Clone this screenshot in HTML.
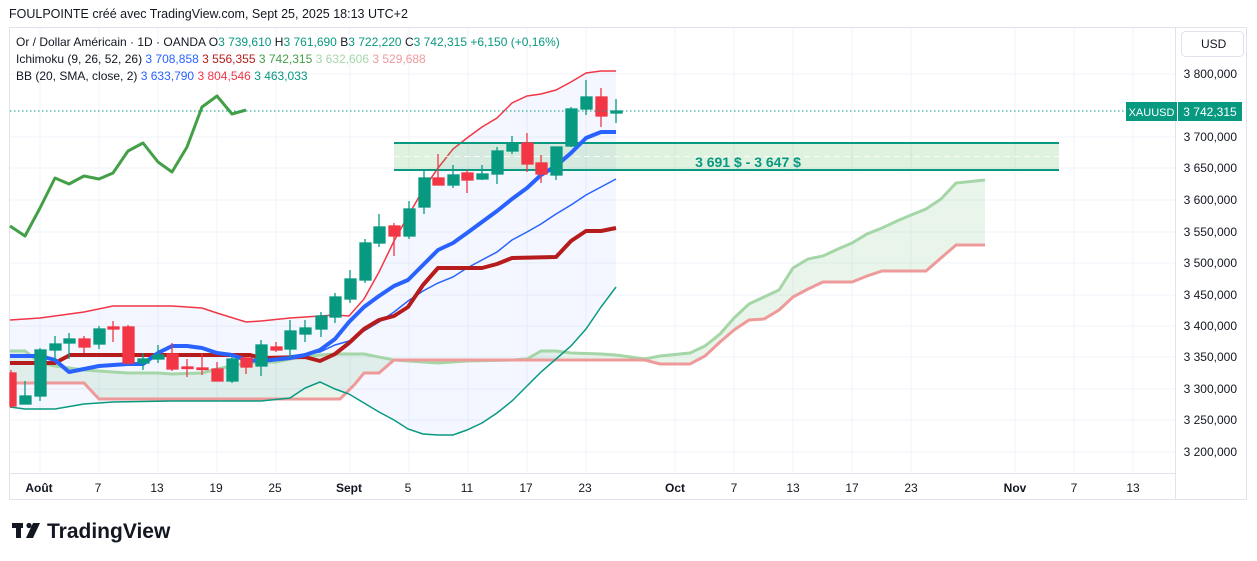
<!DOCTYPE html>
<html><head><meta charset="utf-8"><style>
html,body{margin:0;padding:0;background:#fff;width:1257px;height:561px;overflow:hidden}
svg{display:block;font-family:"Liberation Sans",sans-serif}
</style></head><body>
<svg width="1257" height="561" viewBox="0 0 1257 561" xmlns="http://www.w3.org/2000/svg">
<text x="9" y="18" font-size="12.5" fill="#131722">FOULPOINTE créé avec TradingView.com, Sept 25, 2025 18:13 UTC+2</text>
<rect x="9.5" y="27.5" width="1237" height="472" fill="none" stroke="#e0e3eb"/>
<g stroke="#f0f3fa" stroke-width="1">
<line x1="10" y1="74" x2="1175" y2="74"/><line x1="10" y1="137" x2="1175" y2="137"/><line x1="10" y1="168" x2="1175" y2="168"/><line x1="10" y1="200" x2="1175" y2="200"/><line x1="10" y1="232" x2="1175" y2="232"/><line x1="10" y1="263" x2="1175" y2="263"/><line x1="10" y1="295" x2="1175" y2="295"/><line x1="10" y1="326" x2="1175" y2="326"/><line x1="10" y1="357" x2="1175" y2="357"/><line x1="10" y1="389" x2="1175" y2="389"/><line x1="10" y1="420" x2="1175" y2="420"/><line x1="10" y1="452" x2="1175" y2="452"/>
<line x1="40" y1="28" x2="40" y2="473"/><line x1="99" y1="28" x2="99" y2="473"/><line x1="158" y1="28" x2="158" y2="473"/><line x1="217" y1="28" x2="217" y2="473"/><line x1="276" y1="28" x2="276" y2="473"/><line x1="350" y1="28" x2="350" y2="473"/><line x1="409" y1="28" x2="409" y2="473"/><line x1="468" y1="28" x2="468" y2="473"/><line x1="527" y1="28" x2="527" y2="473"/><line x1="586" y1="28" x2="586" y2="473"/><line x1="675" y1="28" x2="675" y2="473"/><line x1="734" y1="28" x2="734" y2="473"/><line x1="793" y1="28" x2="793" y2="473"/><line x1="852" y1="28" x2="852" y2="473"/><line x1="911" y1="28" x2="911" y2="473"/><line x1="1015" y1="28" x2="1015" y2="473"/><line x1="1074" y1="28" x2="1074" y2="473"/><line x1="1133" y1="28" x2="1133" y2="473"/>
</g>
<line x1="10" y1="473.5" x2="1175" y2="473.5" stroke="#e0e3eb"/>
<line x1="1175.5" y1="28" x2="1175.5" y2="500" stroke="#e0e3eb"/>
<polygon fill="#2962ff" fill-opacity="0.05" points="10,320 40,318 84,312 113,306 172,306 202,308 217,313 246,322 261,321 290,318 320,316 335,315 349,316 364,299 379,272 394,241 408,216 423,190 438,168 453,149 467,138 482,127 497,118 512,103 527,96 541,94 556,90 571,82 586,73 601,71 616,71 616,287 601,307 586,329 571,346 556,359 541,372 527,386 512,401 497,413 482,423 467,430 453,435 438,435 423,434 408,429 394,420 379,412 364,403 349,394 335,389 320,382 290,398 261,401 217,401 172,401 113,402 84,404 55,409 25,409 10,407"/>
<polygon fill="#4caf50" fill-opacity="0.12" points="10,351 25,351 40,363 55,366 84,370 128,373 158,373 172,374 202,373 217,369 246,363 276,362 305,356 335,354 364,354 394,360 438,363 467,361 512,360 527,359 541,351 556,351 571,353 601,354 616,355 645,359 660,356 690,353 705,346 720,334 734,318 749,304 764,297 779,290 793,268 808,259 823,256 838,249 852,243 867,234 882,228 897,221 911,215 926,209 941,199 956,183 985,180 985,245 956,245 941,258 926,271 882,271 867,276 852,282 823,282 808,289 793,297 779,310 764,319 749,320 734,330 720,342 705,356 690,364 660,364 645,360 394,360 379,373 364,373 355,384 340,399 99,399 84,383 10,383"/>
<polyline fill="none" stroke="#a5d6a7" stroke-width="3" points="10,351 25,351 40,363 55,366 84,370 128,373 158,373 172,374 202,373 217,369 246,363 276,362 305,356 335,354 364,354 394,360 438,363 467,361 512,360 527,359 541,351 556,351 571,353 601,354 616,355 645,359 660,356 690,353 705,346 720,334 734,318 749,304 764,297 779,290 793,268 808,259 823,256 838,249 852,243 867,234 882,228 897,221 911,215 926,209 941,199 956,183 985,180"/>
<polyline fill="none" stroke="#ef9a9a" stroke-width="3" points="10,383 25,383 84,383 99,399 340,399 355,384 364,373 379,373 394,360 645,360 660,364 690,364 705,356 720,342 734,330 749,320 764,319 779,310 793,297 808,289 823,282 852,282 867,276 882,271 926,271 941,258 956,245 985,245"/>
<polyline fill="none" stroke="#f23645" stroke-width="1.5" points="10,320 40,318 84,312 113,306 172,306 202,308 217,313 246,322 261,321 290,318 320,316 335,315 349,316 364,299 379,272 394,241 408,216 423,190 438,168 453,149 467,138 482,127 497,118 512,103 527,96 541,94 556,90 571,82 586,73 601,71 616,71"/>
<polyline fill="none" stroke="#089981" stroke-width="1.5" points="10,407 25,409 55,409 84,404 113,402 172,401 217,401 261,401 290,398 305,388 320,382 335,389 349,394 364,403 379,412 394,420 408,429 423,434 438,435 453,435 467,430 482,423 497,413 512,401 527,386 541,372 556,359 571,346 586,329 601,307 616,287"/>
<polyline fill="none" stroke="#2962ff" stroke-width="1.5" points="290,356 320,352 335,345 349,341 364,331 379,322 394,312 408,301 423,291 438,283 453,277 467,268 482,260 497,252 512,240 527,232 541,224 556,214 571,205 586,195 601,187 616,179"/>
<rect x="394" y="143" width="665" height="27" fill="#4caf50" fill-opacity="0.18"/>
<line x1="394" y1="143" x2="1059" y2="143" stroke="#089981" stroke-width="2"/>
<line x1="394" y1="170" x2="1059" y2="170" stroke="#089981" stroke-width="2"/>
<line x1="394" y1="156.5" x2="1059" y2="156.5" stroke="#fff" stroke-dasharray="6,4" stroke-opacity="0.8"/>
<text x="748" y="167" font-size="14" font-weight="bold" fill="#089981" text-anchor="middle">3 691 $ - 3 647 $</text>
<polyline fill="none" stroke="#b71c1c" stroke-width="4" stroke-linejoin="round" points="10,363 55,363 70,355 250,355 261,358 305,357 320,361 335,354 349,343 364,329 379,320 394,316 408,307 423,285 438,268 482,268 497,264 512,258 556,257 571,241 586,231 601,231 616,228"/>
<polyline fill="none" stroke="#2962ff" stroke-width="4" stroke-linejoin="round" points="10,356 40,356 55,360 69,372 84,369 99,366 128,364 143,364 158,353 172,346 187,346 202,348 217,353 232,355 246,360 261,361 290,358 305,355 320,350 335,339 349,322 364,307 379,296 394,286 408,280 423,265 438,250 453,243 467,233 482,222 497,211 512,199 527,188 541,175 556,166 571,153 586,138 601,132 616,132"/>
<polyline fill="none" stroke="#43a047" stroke-width="3" stroke-linejoin="round" points="10,226 25,236 40,208 55,178 69,184 84,176 99,179 113,173 128,151 143,143 158,162 172,172 187,147 202,107 217,96 232,114 246,110"/>
<g stroke-width="1.3">
<g stroke="#f23645" fill="#f23645">
<line x1="11" y1="370" x2="11" y2="408"/><rect x="10" y="373" width="6" height="33"/>
<line x1="84" y1="336" x2="84" y2="353"/><rect x="79" y="339" width="11" height="8"/>
<line x1="113" y1="321" x2="113" y2="342"/><rect x="108" y="327" width="11" height="2"/>
<line x1="128" y1="325" x2="128" y2="365"/><rect x="123" y="327" width="11" height="36"/>
<line x1="172" y1="343" x2="172" y2="371"/><rect x="167" y="354" width="11" height="15"/>
<line x1="187" y1="359" x2="187" y2="377"/><rect x="182" y="367" width="11" height="1.5"/>
<line x1="202" y1="353" x2="202" y2="375"/><rect x="197" y="368" width="11" height="1.5"/>
<line x1="217" y1="362" x2="217" y2="381"/><rect x="212" y="369" width="11" height="12"/>
<line x1="246" y1="357" x2="246" y2="374"/><rect x="241" y="358" width="11" height="9"/>
<line x1="276" y1="342" x2="276" y2="352"/><rect x="271" y="347" width="11" height="3"/>
<line x1="394" y1="223" x2="394" y2="256"/><rect x="389" y="226" width="11" height="10"/>
<line x1="438" y1="154" x2="438" y2="185"/><rect x="433" y="178" width="11" height="7"/>
<line x1="467" y1="170" x2="467" y2="193"/><rect x="462" y="173" width="11" height="7"/>
<line x1="527" y1="133" x2="527" y2="172"/><rect x="522" y="143" width="11" height="21"/>
<line x1="541" y1="155" x2="541" y2="183"/><rect x="536" y="163" width="11" height="11"/>
<line x1="601" y1="88" x2="601" y2="127"/><rect x="596" y="97" width="11" height="19"/>
</g>
<g stroke="#089981" fill="#089981">
<line x1="25" y1="381" x2="25" y2="404"/><rect x="20" y="396" width="11" height="8"/>
<line x1="40" y1="348" x2="40" y2="401"/><rect x="35" y="350" width="11" height="46"/>
<line x1="55" y1="336" x2="55" y2="360"/><rect x="50" y="344" width="11" height="6"/>
<line x1="69" y1="333" x2="69" y2="359"/><rect x="64" y="339" width="11" height="4"/>
<line x1="99" y1="326" x2="99" y2="349"/><rect x="94" y="329" width="11" height="15"/>
<line x1="143" y1="353" x2="143" y2="370"/><rect x="138" y="359" width="11" height="4"/>
<line x1="158" y1="345" x2="158" y2="363"/><rect x="153" y="355" width="11" height="4"/>
<line x1="232" y1="357" x2="232" y2="383"/><rect x="227" y="359" width="11" height="22"/>
<line x1="261" y1="340" x2="261" y2="376"/><rect x="256" y="345" width="11" height="21"/>
<line x1="290" y1="320" x2="290" y2="358"/><rect x="285" y="331" width="11" height="18"/>
<line x1="305" y1="320" x2="305" y2="342"/><rect x="300" y="328" width="11" height="6"/>
<line x1="321" y1="312" x2="321" y2="337"/><rect x="316" y="316" width="11" height="13"/>
<line x1="335" y1="293" x2="335" y2="323"/><rect x="330" y="297" width="11" height="20"/>
<line x1="350" y1="270" x2="350" y2="303"/><rect x="345" y="279" width="11" height="20"/>
<line x1="365" y1="239" x2="365" y2="283"/><rect x="360" y="243" width="11" height="37"/>
<line x1="379" y1="214" x2="379" y2="247"/><rect x="374" y="227" width="11" height="16"/>
<line x1="409" y1="201" x2="409" y2="239"/><rect x="404" y="209" width="11" height="27"/>
<line x1="424" y1="171" x2="424" y2="214"/><rect x="419" y="178" width="11" height="29"/>
<line x1="453" y1="165" x2="453" y2="188"/><rect x="448" y="175" width="11" height="10"/>
<line x1="482" y1="165" x2="482" y2="180"/><rect x="477" y="174" width="11" height="5"/>
<line x1="497" y1="147" x2="497" y2="184"/><rect x="492" y="151" width="11" height="23"/>
<line x1="512" y1="136" x2="512" y2="154"/><rect x="507" y="143" width="11" height="8"/>
<line x1="556" y1="147" x2="556" y2="180"/><rect x="551" y="147" width="11" height="28"/>
<line x1="571" y1="107" x2="571" y2="147"/><rect x="566" y="109" width="11" height="37"/>
<line x1="586" y1="80" x2="586" y2="115"/><rect x="581" y="97" width="11" height="12"/>
<line x1="616" y1="99" x2="616" y2="123"/><rect x="611" y="111" width="11" height="2"/>
</g>
</g>
<line x1="10" y1="111" x2="1125" y2="111" stroke="#089981" stroke-dasharray="1.5,2.5"/>
<rect x="1181.5" y="31.5" width="62" height="25" rx="4" fill="#fff" stroke="#e0e3eb"/>
<text x="1201" y="48" font-size="12" fill="#131722">USD</text>
<g font-size="12" fill="#131722" text-anchor="end">
<text x="1237" y="78">3 800,000</text><text x="1237" y="141">3 700,000</text><text x="1237" y="172">3 650,000</text><text x="1237" y="204">3 600,000</text><text x="1237" y="236">3 550,000</text><text x="1237" y="267">3 500,000</text><text x="1237" y="299">3 450,000</text><text x="1237" y="330">3 400,000</text><text x="1237" y="361">3 350,000</text><text x="1237" y="393">3 300,000</text><text x="1237" y="424">3 250,000</text><text x="1237" y="456">3 200,000</text>
</g>
<rect x="1126" y="102" width="51" height="19" fill="#089981"/>
<rect x="1178" y="102" width="64" height="19" fill="#089981"/>
<text x="1151.5" y="116" font-size="11" fill="#fff" text-anchor="middle">XAUUSD</text>
<text x="1210" y="116" font-size="12" fill="#fff" text-anchor="middle">3 742,315</text>
<g font-size="12" fill="#131722" text-anchor="middle">
<text x="39" y="492" font-weight="bold">Août</text><text x="98" y="492">7</text><text x="157" y="492">13</text><text x="216" y="492">19</text><text x="275" y="492">25</text><text x="349" y="492" font-weight="bold">Sept</text><text x="408" y="492">5</text><text x="467" y="492">11</text><text x="526" y="492">17</text><text x="585" y="492">23</text><text x="675" y="492" font-weight="bold">Oct</text><text x="734" y="492">7</text><text x="793" y="492">13</text><text x="852" y="492">17</text><text x="911" y="492">23</text><text x="1015" y="492" font-weight="bold">Nov</text><text x="1074" y="492">7</text><text x="1133" y="492">13</text>
</g>
<text x="16" y="46" font-size="12" fill="#131722">Or / Dollar Américain · 1D · OANDA <tspan>O</tspan><tspan fill="#089981">3 739,610</tspan> <tspan>H</tspan><tspan fill="#089981">3 761,690</tspan> <tspan>B</tspan><tspan fill="#089981">3 722,220</tspan> <tspan>C</tspan><tspan fill="#089981">3 742,315 +6,150 (+0,16%)</tspan></text>
<text x="16" y="63" font-size="12" fill="#131722">Ichimoku (9, 26, 52, 26) <tspan fill="#2962ff">3 708,858</tspan> <tspan fill="#b71c1c">3 556,355</tspan> <tspan fill="#43a047">3 742,315</tspan> <tspan fill="#a5d6a7">3 632,606</tspan> <tspan fill="#ef9a9a">3 529,688</tspan></text>
<text x="16" y="80" font-size="12" fill="#131722">BB (20, SMA, close, 2) <tspan fill="#2962ff">3 633,790</tspan> <tspan fill="#f23645">3 804,546</tspan> <tspan fill="#089981">3 463,033</tspan></text>
<g fill="#131722">
<rect x="12" y="523" width="11" height="5"/><rect x="16" y="523" width="5" height="15"/>
<circle cx="29" cy="525.5" r="2.6"/>
<polygon points="33,523 40,523 33,538 26,538"/>
</g>
<text x="47" y="538" font-size="21" font-weight="bold" fill="#131722">TradingView</text>
</svg>
</body></html>
